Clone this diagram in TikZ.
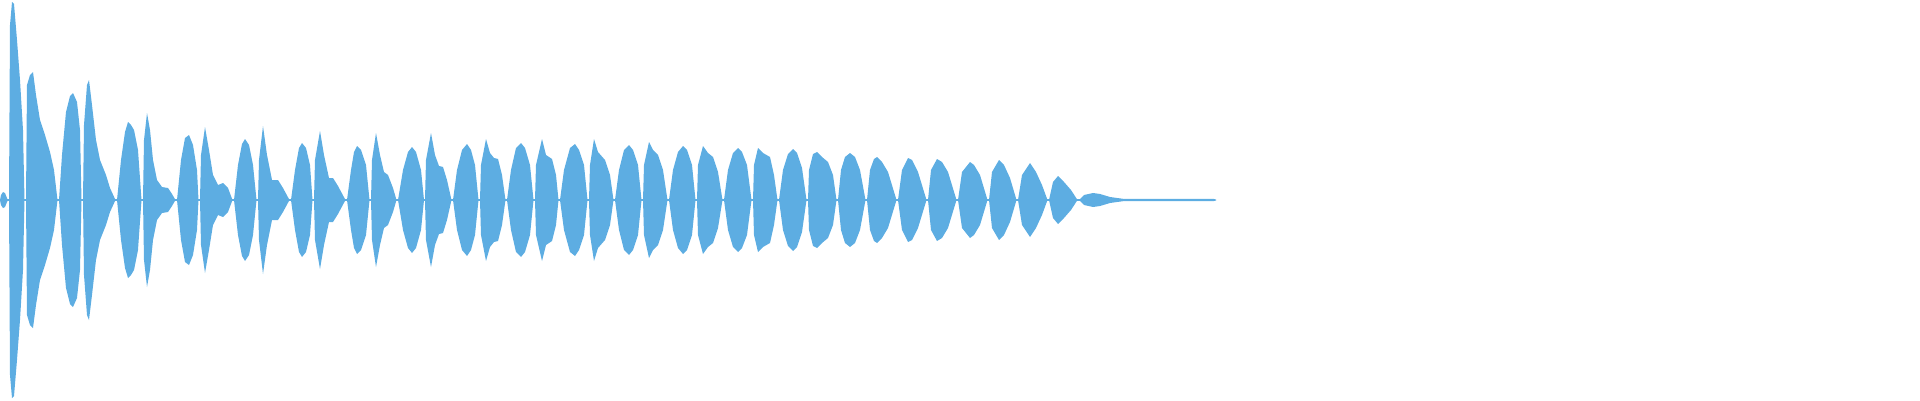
\documentclass[tikz,border=0pt]{standalone}
\definecolor{wavec}{RGB}{93,173,226}
\begin{document}
\begin{tikzpicture}[x=1pt,y=1pt]
\useasboundingbox (0,0) rectangle (1920,400);
\foreach \s in {1,-1}{
\begin{scope}[yshift=200pt,yscale=\s]
\fill[wavec] plot coordinates {
(0,0)(1,5)(3,8)(5,7)(7,2)(8,0)
(9,0)(10,175)(12,198)(14,196)(17,160)(20,120)(23,70)(24.5,0)
(26,0)(27,115)(30,125)(33,128)(36,105)(40,80)(45,65)(50,48)(54,30)(57.5,0)
(59,0)(62,45)(66,88)(70,104)(73,107)(77,98)(80,70)(81.5,0)
(83,0)(84,75)(87,115)(89,120)(92,95)(96,60)(100,40)(106,25)(110,12)(115.5,0)
(117,0)(121,40)(125,68)(128,78)(131,75)(134,70)(138,50)(141.5,0)
(143,0)(144,60)(147,87)(150,70)(153,40)(157,20)(162,13)(168,12)(172,6)(175.5,0)
(177,0)(181,40)(185,62)(189,65)(193,55)(197,30)(198.5,0)
(200,0)(201,45)(205,73)(209,50)(213,25)(218,15)(223,17)(228,12)(232.5,0)
(234,0)(238,35)(242,56)(245,61)(249,55)(253,35)(256.5,0)
(258,0)(259,40)(263,74)(267,45)(272,20)(278,20)(283,12)(289.5,0)
(291,0)(295,30)(299,52)(302,57)(306,52)(310,35)(312.5,0)
(314,0)(315,40)(320,69)(324,45)(329,22)(333,22)(338,14)(345.5,0)
(347,0)(351,30)(354,48)(357,54)(361,50)(366,35)(369.5,0)
(371,0)(372,40)(376,67)(380,45)(384,28)(388,25)(393,12)(396.5,0)
(398,0)(403,30)(408,48)(412,53)(416,48)(421,30)(424,0)
(425,0)(426,40)(431,67)(435,45)(439,34)(443,33)(447,20)(451.5,0)
(453,0)(457,30)(462,50)(467,56)(471,50)(475,35)(478.5,0)
(480,0)(481,35)(486,61)(490,47)(494,42)(498,41)(502,25)(505.5,0)
(507,0)(511,30)(516,52)(521,57)(525,52)(530,35)(533.5,0)
(535,0)(536,35)(542,61)(546,45)(552,41)(556,25)(558.5,0)
(560,0)(564,30)(570,52)(575,56)(579,50)(584,35)(587.5,0)
(589,0)(590,35)(594,61)(598,48)(605,40)(610,25)(613.5,0)
(615,0)(619,30)(624,50)(629,55)(633,50)(638,35)(641.5,0)
(643,0)(644,35)(649,58)(653,50)(658,45)(663,30)(667.5,0)
(669,0)(673,30)(678,48)(683,54)(687,50)(692,35)(695.5,0)
(697,0)(698,35)(703,54)(708,47)(713,43)(718,28)(722.5,0)
(724,0)(728,30)(733,47)(738,52)(742,48)(747,35)(751.5,0)
(753,0)(754,35)(758,52)(763,47)(770,43)(774,25)(777.5,0)
(779,0)(783,30)(788,46)(793,51)(797,47)(802,32)(806.5,0)
(808,0)(809,30)(813,46)(817,48)(822,43)(828,38)(833,25)(836.5,0)
(838,0)(841,30)(845,43)(850,47)(855,43)(860,30)(865.5,0)
(867,0)(870,30)(874,41)(877,43)(882,38)(888,28)(896.5,0)
(898,0)(902,30)(908,42)(912,40)(918,28)(926.5,0)
(928,0)(931,30)(937,41)(942,38)(948,28)(956.5,0)
(958,0)(962,28)(970,38)(974,35)(980,25)(987.5,0)
(989,0)(992,28)(999,40)(1004,35)(1010,22)(1016.5,0)
(1018,0)(1022,25)(1030,37)(1036,28)(1042,15)(1047.5,0)
(1049,0)(1053,18)(1058,24)(1064,18)(1071,10)(1077.5,0)
(1079,0)(1084,5)(1093,7)(1100,6)(1110,3)(1123,1.2)(1213,1.2)(1216,0.5)(1216,0)
} -- cycle;
\end{scope}}
\fill[wavec] (0,199.3) rectangle (1214,200.7);
\end{tikzpicture}
\end{document}
